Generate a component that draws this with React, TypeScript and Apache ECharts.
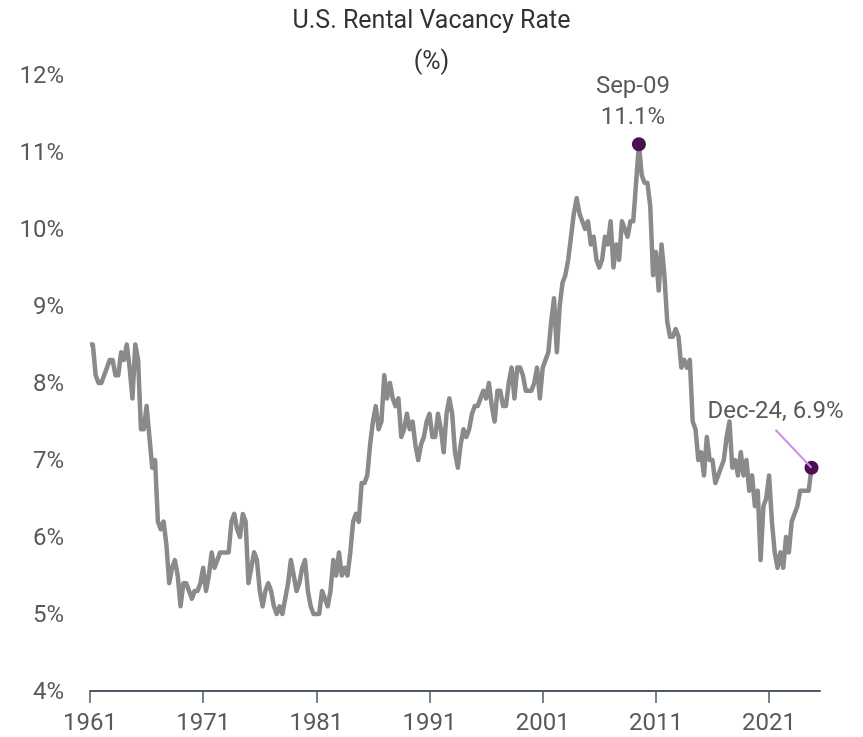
import React, { useEffect, useRef } from "react";
import * as echarts from "echarts";

// Quarterly U.S. rental vacancy rate (%)
const rate1961to1970 = [
  8.5, 8.5, 8.1, 8.0, 8.0, 8.1, 8.2, 8.3, 8.3, 8.1, 8.1, 8.4, 8.3, 8.5, 8.2, 7.8,
  8.5, 8.3, 7.4, 7.4, 7.7, 7.3, 6.9, 7.0, 6.2, 6.1, 6.2, 5.9, 5.4, 5.6, 5.7, 5.5,
  5.1, 5.4, 5.4, 5.3, 5.2, 5.3, 5.3, 5.4,
];
const rate1971to1980 = [
  5.6, 5.3, 5.5, 5.8, 5.6, 5.7, 5.8, 5.8, 5.8, 5.8, 6.2, 6.3, 6.1, 6.0, 6.3, 6.2,
  5.4, 5.6, 5.8, 5.7, 5.3, 5.1, 5.3, 5.4, 5.3, 5.1, 5.0, 5.1, 5.0, 5.2, 5.4, 5.7,
  5.5, 5.3, 5.4, 5.6, 5.7, 5.3, 5.1, 5.0,
];
const rate1981to1990 = [
  5.0, 5.0, 5.3, 5.2, 5.1, 5.3, 5.7, 5.5, 5.8, 5.5, 5.6, 5.5, 5.8, 6.2, 6.3, 6.2,
  6.7, 6.7, 6.8, 7.2, 7.5, 7.7, 7.4, 7.5, 8.1, 7.8, 8.0, 7.8, 7.7, 7.8, 7.3, 7.4,
  7.6, 7.4, 7.5, 7.2, 7.0, 7.2, 7.3, 7.5,
];
const rate1991to2000 = [
  7.6, 7.3, 7.3, 7.6, 7.4, 7.1, 7.6, 7.8, 7.6, 7.1, 6.9, 7.2, 7.4, 7.3, 7.4, 7.6,
  7.7, 7.7, 7.8, 7.9, 7.8, 8.0, 7.7, 7.5, 7.9, 7.9, 7.7, 7.7, 8.0, 8.2, 7.8, 8.2,
  8.2, 8.1, 7.9, 7.9, 7.9, 8.0, 8.2, 7.8,
];
const rate2001to2010 = [
  8.2, 8.3, 8.4, 8.8, 9.1, 8.4, 9.0, 9.3, 9.4, 9.6, 9.9, 10.2, 10.4, 10.2, 10.1, 10.0,
  10.1, 9.8, 9.9, 9.6, 9.5, 9.6, 9.9, 9.8, 10.1, 9.5, 9.8, 9.6, 10.1, 10.0, 9.9, 10.1,
  10.1, 10.6, 11.1, 10.7, 10.6, 10.6, 10.3, 9.4,
];
const rate2011to2020 = [
  9.7, 9.2, 9.8, 9.4, 8.8, 8.6, 8.6, 8.7, 8.6, 8.2, 8.3, 8.2, 8.3, 7.5, 7.4, 7.0,
  7.1, 6.8, 7.3, 7.0, 7.0, 6.7, 6.8, 6.9, 7.0, 7.3, 7.5, 6.9, 7.0, 6.8, 7.1, 6.8,
  7.0, 6.6, 6.8, 6.4, 6.6, 5.7, 6.4, 6.5,
];
const rate2021to2024 = [
  6.8, 6.2, 5.8, 5.6, 5.8, 5.6, 6.0, 5.8, 6.2, 6.3, 6.4, 6.6, 6.6, 6.6, 6.6, 6.9,
];

const firstYear = 1961;
const lastYear = 2024;
const quarterNames = ["Q1", "Q2", "Q3", "Q4"];
const trailingCategories = ["2025 Q1", "2025 Q2", "2025 Q3"];
const tickYears = ["1961", "1971", "1981", "1991", "2001", "2011", "2021"];
const yTicks = { min: 4, max: 12, step: 1 };

const callouts = [
  { category: "2009 Q3", text: "Sep-09\n11.1%" },
  { category: "2024 Q4", text: "Dec-24, 6.9%" },
];

const rates = [
  ...rate1961to1970,
  ...rate1971to1980,
  ...rate1981to1990,
  ...rate1991to2000,
  ...rate2001to2010,
  ...rate2011to2020,
  ...rate2021to2024,
];

const categories: string[] = [];
for (let y = firstYear; y <= lastYear; y++) {
  for (const q of quarterNames) categories.push(`${y} ${q}`);
}
const axisCategories = [...categories, ...trailingCategories];

const FONT = "Roboto";
const LABEL_GRAY = "#595959";

export default function App() {
  const ref = useRef<HTMLDivElement>(null);

  useEffect(() => {
    if (!ref.current) return;
    const chart = echarts.init(ref.current, undefined, { renderer: "svg" });

    const isTick = (_i: number, value: string) =>
      value.endsWith("Q1") && tickYears.includes(value.slice(0, 4));

    const peakIdx = categories.indexOf(callouts[0].category);
    const lastIdx = categories.indexOf(callouts[1].category);

    chart.setOption({
      animation: false,
      title: {
        text: "U.S. Rental Vacancy Rate\n(%)",
        left: "center",
        top: -1,
        padding: 0,
        textStyle: {
          fontFamily: FONT,
          fontSize: 25,
          fontWeight: "normal",
          color: "#333333",
          lineHeight: 41,
        },
      },
      grid: { left: 90, right: 43, top: 75, bottom: 46, containLabel: false },
      xAxis: {
        type: "category",
        data: axisCategories,
        boundaryGap: false,
        axisLine: { show: true, lineStyle: { color: "#4e5a66", width: 2 } },
        axisTick: {
          show: true,
          interval: isTick,
          length: 12,
          lineStyle: { color: "#4e5a66", width: 1.5 },
        },
        axisLabel: {
          show: true,
          interval: isTick,
          formatter: (v: string) => v.slice(0, 4),
          fontFamily: FONT,
          fontSize: 24,
          color: LABEL_GRAY,
          margin: 19,
        },
        splitLine: { show: false },
      },
      yAxis: {
        type: "value",
        min: yTicks.min,
        max: yTicks.max,
        interval: yTicks.step,
        axisLine: { show: false },
        axisTick: { show: false },
        splitLine: { show: false },
        axisLabel: {
          formatter: "{value}%",
          fontFamily: FONT,
          fontSize: 24,
          color: LABEL_GRAY,
          margin: 26,
        },
      },
      series: [
        {
          type: "line",
          data: rates,
          showSymbol: false,
          symbol: "none",
          lineStyle: { color: "#8a8a8a", width: 4.5, join: "round" },
          z: 2,
        },
        {
          type: "scatter",
          symbolSize: 14,
          itemStyle: { color: "#4a1050", opacity: 1 },
          z: 5,
          data: [
            {
              value: [peakIdx, rates[peakIdx]],
              label: {
                show: true,
                position: "top",
                formatter: callouts[0].text,
                distance: 6,
                offset: [-6, 0],
                align: "center",
                fontFamily: FONT,
                fontSize: 24,
                lineHeight: 31,
                color: LABEL_GRAY,
              },
            },
            {
              value: [lastIdx, rates[lastIdx]],
              label: {
                show: true,
                position: "top",
                formatter: callouts[1].text,
                offset: [-36, -32],
                align: "center",
                fontFamily: FONT,
                fontSize: 24,
                lineHeight: 28,
                color: LABEL_GRAY,
              },
            },
          ],
        },
      ],
    });

    const [px, py] = chart.convertToPixel({ gridIndex: 0 }, [lastIdx, rates[lastIdx]]) as number[];
    chart.setOption({
      graphic: [
        {
          type: "line",
          z: 10,
          shape: { x1: px - 36, y1: py - 38, x2: px, y2: py },
          style: { stroke: "#d08cf0", lineWidth: 2 },
        },
      ],
    });

    return () => chart.dispose();
  }, []);

  return (
    <div
      ref={ref}
      style={{ position: "fixed", left: 0, top: 0, width: 863, height: 737 }}
    />
  );
}
